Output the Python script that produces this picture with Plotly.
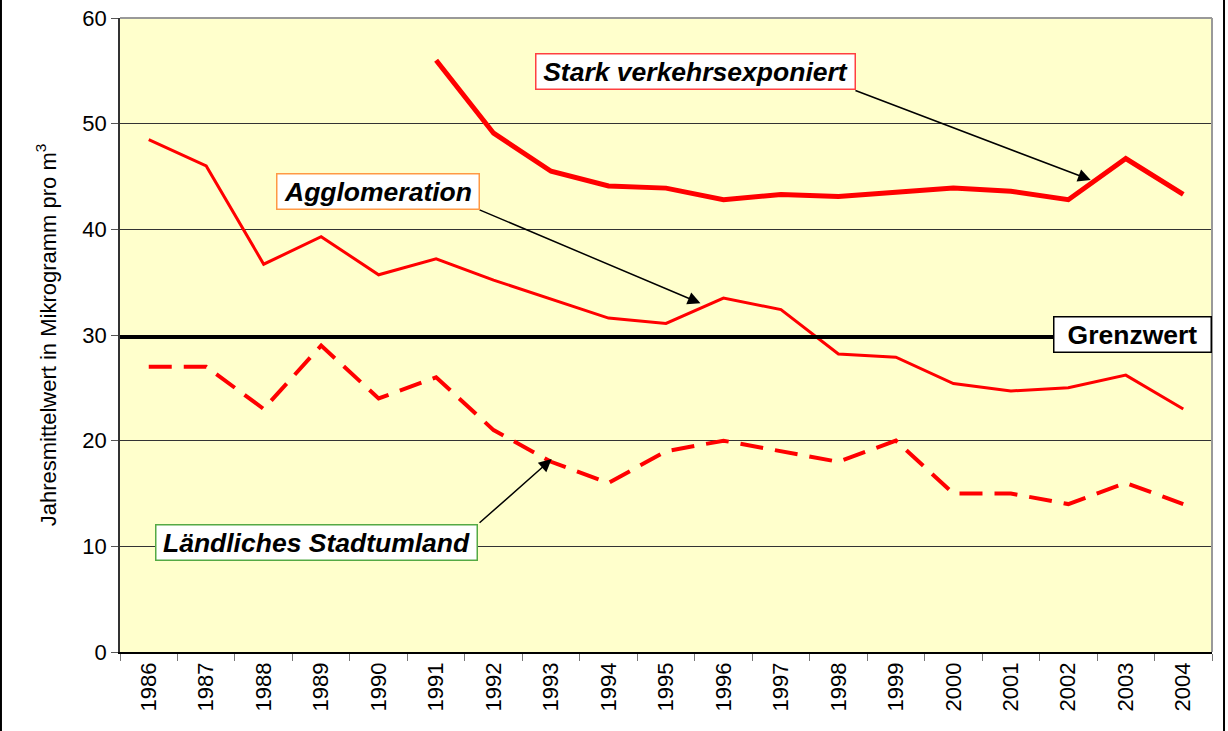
import plotly.graph_objects as go

years = [str(y) for y in range(1986, 2005)]
stark = [None, None, None, None, None, 56.0, 49.1, 45.5, 44.1, 43.9, 42.8, 43.3, 43.1, 43.5, 43.9, 43.6, 42.8, 46.7, 43.3]
agglomeration = [48.5, 46.0, 36.7, 39.3, 35.7, 37.2, 35.2, 33.4, 31.6, 31.1, 33.5, 32.4, 28.2, 27.9, 25.4, 24.7, 25.0, 26.2, 23.0]
laendlich = [27, 27, 23, 29, 24, 26, 21, 18, 16, 19, 20, 19, 18, 20, 15, 15, 14, 16, 14]
grenzwert = 29.8
y_ticks = [0, 10, 20, 30, 40, 50, 60]

FONT = "Liberation Sans, Arial, sans-serif"

fig = go.Figure()
fig.add_trace(go.Scatter(x=years, y=stark, mode="lines",
                         line=dict(color="#ff0000", width=5), name="Stark verkehrsexponiert"))
fig.add_trace(go.Scatter(x=years, y=agglomeration, mode="lines",
                         line=dict(color="#ff0000", width=3), name="Agglomeration"))
fig.add_trace(go.Scatter(x=years, y=laendlich, mode="lines",
                         line=dict(color="#ff0000", width=4, dash="23px,12px"), name="Ländliches Stadtumland"))

# Grenzwert line
fig.add_shape(type="line", xref="x", yref="y", x0=-0.5, x1=18.5, y0=grenzwert, y1=grenzwert,
              line=dict(color="black", width=4), layer="above")
# plot area top/right border (gray)
fig.add_shape(type="line", xref="paper", yref="paper", x0=0, x1=1, y0=1, y1=1,
              line=dict(color="#999999", width=2))
fig.add_shape(type="line", xref="paper", yref="paper", x0=1, x1=1, y0=0, y1=1,
              line=dict(color="#999999", width=2))
# outer frame lines left/right
fig.add_shape(type="line", xref="paper", yref="paper", x0=-0.109, x1=-0.109, y0=-0.2, y1=1.1,
              line=dict(color="black", width=2))
fig.add_shape(type="line", xref="paper", yref="paper", x0=1.011, x1=1.011, y0=-0.2, y1=1.1,
              line=dict(color="black", width=2))


def box(text, x, y, border, w, italic=True):
    t = "<b><i>%s</i></b>" % text if italic else "<b>%s</b>" % text
    return dict(text=t, x=x, y=y, xref="x", yref="y", showarrow=False,
                font=dict(family=FONT, size=26.5, color="black"),
                bgcolor="white", bordercolor=border, borderwidth=1.5, borderpad=1,
                width=w, height=32, align="center",
                xanchor="center", yanchor="middle")


def arrow(x, y, ax, ay):
    return dict(text="", x=x, y=y, ax=ax, ay=ay, xref="x", yref="y", axref="x", ayref="y",
                showarrow=True, arrowhead=2, arrowsize=1.7, arrowwidth=1.5, arrowcolor="black",
                standoff=0, startstandoff=0)


fig.update_layout(
    width=1228, height=731,
    margin=dict(l=120, r=16, t=18, b=79),
    paper_bgcolor="white", plot_bgcolor="#ffffcc",
    showlegend=False,
    font=dict(family=FONT, size=22, color="black"),
    annotations=[
        arrow(16.39, 44.67, 12.27, 53.19),
        arrow(9.60, 33.0, 5.73, 41.9),
        arrow(7.01, 18.26, 5.73, 12.1),
        box("Stark verkehrsexponiert", 9.51, 54.92, "#ff4040", 316),
        box("Agglomeration", 3.99, 43.61, "#ff9944", 199),
        box("Ländliches Stadtumland", 2.92, 10.32, "#55aa44", 318),
        box("Grenzwert", 17.11, 30.05, "black", 154, italic=False),
    ],
)
fig.update_xaxes(type="category", tickson="boundaries", ticks="outside", ticklen=7,
                 tickcolor="#777777", tickangle=-90, showgrid=False, automargin=False,
                 showline=True, linecolor="black", linewidth=1.5,
                 tickfont=dict(size=22), range=[-0.5, 18.5])
fig.update_yaxes(range=[0, 60], tickvals=y_ticks, ticks="outside", ticklen=7, tickcolor="#555555",
                 showgrid=True, gridcolor="#333333", gridwidth=1, zeroline=False, automargin=False,
                 showline=True, linecolor="#333333", linewidth=1.5,
                 tickfont=dict(size=22),
                 title=dict(text="Jahresmittelwert in Mikrogramm pro m<sup>3</sup>",
                            font=dict(size=22), standoff=20))

fig.write_html("out.html", config={"displayModeBar": False},
               post_script="document.body.style.margin='0';")
